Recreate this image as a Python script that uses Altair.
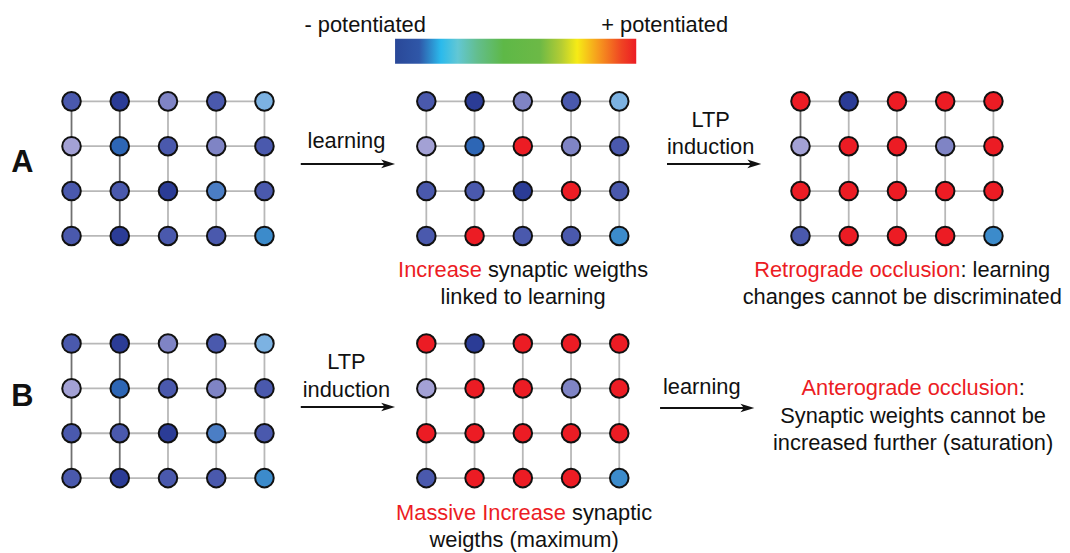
import altair as alt
import pandas as pd

# ---------------- data ----------------
# node state codes -> colours (level of potentiation)
state_codes = ["D", "M", "L", "P", "S", "B", "K", "C", "R"]
state_colors = ["#2b3c96", "#4a59ad", "#7f84c5", "#a3a1d5", "#7cb2e2",
                "#2d66b5", "#4b7ec5", "#3c8bcb", "#ec1c24"]

grid_baseline = ["M", "D", "L", "M", "S",
                 "P", "B", "M", "L", "M",
                 "M", "M", "D", "K", "M",
                 "M", "D", "M", "M", "C"]
grid_learning = ["M", "D", "L", "M", "S",
                 "P", "B", "R", "L", "M",
                 "M", "M", "D", "R", "M",
                 "M", "R", "M", "M", "C"]
grid_saturated = ["R", "D", "R", "R", "R",
                  "P", "R", "R", "L", "R",
                  "R", "R", "R", "R", "R",
                  "M", "R", "R", "R", "C"]

grid_names = ["A1", "A2", "A3", "B1", "B2"]
grid_states = [grid_baseline, grid_learning, grid_saturated, grid_baseline, grid_saturated]

# gradient of the colour bar
bar_offsets = [0.0, 0.1, 0.19, 0.26, 0.34, 0.45, 0.6, 0.69, 0.755, 0.85, 0.94, 1.0]
bar_colors = ["#2a4898", "#2f57a8", "#2bbaec", "#62c7d4", "#63be8e", "#5eb847",
              "#6cb946", "#b5cd33", "#f6eb16", "#f6941e", "#ef4323", "#ec1c24"]

# ---------------- layout ----------------
grid_origin = {"A1": (72.0, 100.0), "A2": (429.5, 100.0), "A3": (806.5, 100.0),
               "B1": (72.0, 344.0), "B2": (429.5, 344.0)}
dx, dy = 48.6, 45.2
dark_cols = {"A1": [0, 1], "A2": [], "A3": [0], "B1": [0, 1], "B2": []}

node_rows, edge_rows = [], []
for g, states in zip(grid_names, grid_states):
    ox, oy = grid_origin[g]
    for i, s in enumerate(states):
        r, c = divmod(i, 5)
        node_rows.append({"x": ox + c * dx, "y": oy + r * dy, "state": s})
    for r in range(4):
        edge_rows.append({"x": ox, "x2": ox + 4 * dx, "y": oy + r * dy, "y2": oy + r * dy,
                          "shade": "light"})
    for c in range(5):
        edge_rows.append({"x": ox + c * dx, "x2": ox + c * dx, "y": oy, "y2": oy + 3 * dy,
                          "shade": "dark" if c in dark_cols[g] else "light"})
nodes = pd.DataFrame(node_rows)
edges = pd.DataFrame(edge_rows)

arrows = pd.DataFrame([
    {"x": 303, "x2": 398, "y": 163},
    {"x": 672, "x2": 767, "y": 163},
    {"x": 303, "x2": 398, "y": 408},
    {"x": 665, "x2": 760, "y": 409},
])
arrows["hx"] = arrows["x2"] - 7
arrows["sx2"] = arrows["x2"] - 8

bar = pd.DataFrame([{"x": 398, "x2": 641, "y": 37, "y2": 62}])

# Arial / Liberation Sans advance widths (per 1000 em)
W = {" ": 278, "-": 333, "+": 584, ":": 278, "(": 333, ")": 333,
     "a": 556, "b": 556, "c": 500, "d": 556, "e": 556, "f": 278, "g": 556, "h": 556,
     "i": 222, "k": 500, "l": 222, "m": 833, "n": 556, "o": 556, "p": 556, "r": 333,
     "s": 500, "t": 278, "u": 556, "v": 500, "w": 722, "x": 500, "y": 500,
     "A": 667, "I": 278, "L": 556, "M": 833, "P": 667, "R": 722, "S": 667, "T": 611}
FS = 22


def tw(s, fs=FS):
    return sum(W.get(ch, 556) for ch in s) * fs / 1000.0


text_rows = []


def add(text, x, y, color="black", align="center", size=FS, weight="normal"):
    text_rows.append({"x": x, "y": y, "label": text, "tc": color, "align": align,
                      "size": size, "weight": weight})


def add_mixed(segments, cx, y):
    total = sum(tw(t) for t, _ in segments)
    x = cx - total / 2
    for t, col in segments:
        stripped = t.lstrip(" ")
        x_start = x + tw(t[: len(t) - len(stripped)])
        add(stripped, x_start, y, col, "left")
        x += tw(t)


add("- potentiated", 306.7, 23, align="left")
add("+ potentiated", 733.5, 23, align="right")
add("A", 22.5, 162, size=31, weight="bold")
add("B", 22.5, 398, size=31, weight="bold")
add("learning", 349, 140)
add("LTP", 716, 119)
add("induction", 716, 146)
add("LTP", 349, 363)
add("induction", 349, 391)
add("learning", 707, 388)
add_mixed([("Increase", "red"), (" synaptic weigths", "black")], 527, 270)
add("linked to learning", 527, 297)
add_mixed([("Retrograde occlusion", "red"), (": learning", "black")], 909, 270)
add("changes cannot be discriminated", 909, 297)
add_mixed([("Anterograde occlusion", "red"), (":", "black")], 920, 389)
add("Synaptic weights cannot be", 920, 417)
add("increased further (saturation)", 920, 444)
add_mixed([("Massive Increase", "red"), (" synaptic", "black")], 528, 515)
add("weigths (maximum)", 528, 542)
texts = pd.DataFrame(text_rows)

text_palette = {"black": "#111111", "red": "#ec1c24"}
shade_palette = {"dark": "#707070", "light": "#b8b8b8"}

# ---------------- chart ----------------
XS = alt.Scale(domain=[8, 1070], nice=False, zero=False)
YS = alt.Scale(domain=[8, 553], nice=False, zero=False, reverse=True)
X = alt.X("x:Q", scale=XS, axis=None)
Y = alt.Y("y:Q", scale=YS, axis=None)

edge_layers = [
    alt.Chart(edges[edges["shade"] == sh]).mark_rule(strokeWidth=1.8, color=col).encode(
        x=X, x2="x2:Q", y=Y, y2="y2:Q")
    for sh, col in shade_palette.items()
]

node_layer = alt.Chart(nodes).mark_point(
    shape="circle", filled=True, size=350, stroke="#111111", strokeWidth=2, opacity=1
).encode(
    x=X, y=Y,
    fill=alt.Fill("state:N", scale=alt.Scale(domain=state_codes, range=state_colors), legend=None),
)

gradient = alt.Gradient(
    gradient="linear",
    stops=[alt.GradientStop(offset=o, color=c) for o, c in zip(bar_offsets, bar_colors)],
    x1=0, x2=1, y1=0, y2=0,
)
bar_layer = alt.Chart(bar).mark_rect(color=gradient).encode(x=X, x2="x2:Q", y=Y, y2="y2:Q")

shaft_layer = alt.Chart(arrows).mark_rule(strokeWidth=2, color="#111111").encode(
    x=X, x2="sx2:Q", y=Y, y2="y:Q"
)
head_layer = alt.Chart(arrows).mark_point(
    shape="M1,0L-1,-0.62L-0.5,0L-1,0.62Z", filled=True, size=196, color="#111111", opacity=1
).encode(x=alt.X("hx:Q", scale=XS, axis=None), y=Y)

text_layers = []
for (align, size, weight, tc), sub in texts.groupby(["align", "size", "weight", "tc"]):
    text_layers.append(
        alt.Chart(sub).mark_text(
            align=align, baseline="middle", font="Liberation Sans",
            fontSize=int(size), fontWeight=weight, color=text_palette[tc]
        ).encode(x=X, y=Y, text="label:N")
    )

chart = alt.layer(*edge_layers, node_layer, bar_layer, shaft_layer, head_layer, *text_layers).properties(
    width=1062, height=545, padding=0, autosize="none", background="white"
).configure_view(stroke=None)

chart.save("out.html", embed_options={"renderer": "svg", "actions": False})
